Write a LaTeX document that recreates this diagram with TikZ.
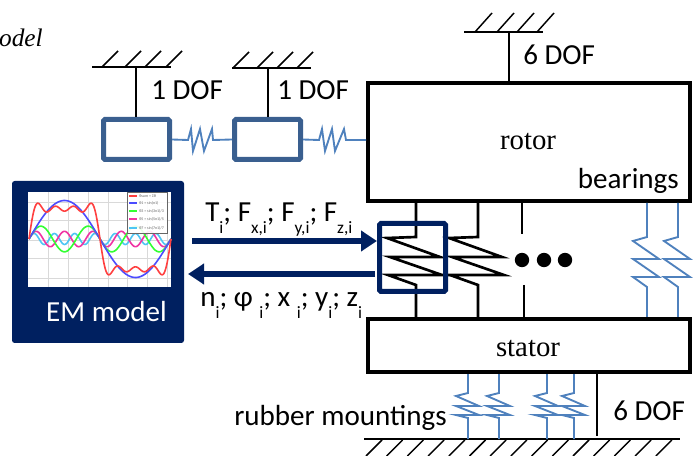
\documentclass[tikz,border=0pt]{standalone}
\usepackage{fontspec}
\setmainfont{Carlito}
\newfontfamily\timesfont{Liberation Serif}
\usetikzlibrary{arrows.meta}
\definecolor{navy}{HTML}{002060}
\definecolor{steel}{HTML}{3A5F8F}
\definecolor{springblue}{HTML}{4F81BD}
\newcommand{\lowi}[1]{\raisebox{-.4em}{\fontsize{13}{13}\selectfont #1}}
\tikzset{
	wire/.style={line width=1.5pt},
	springwire/.style={line width=2pt},
	thinwire/.style={line width=1.1pt},
	bluewire/.style={line width=1.4pt,springblue},
	body/.style={draw,line width=3pt,inner sep=0pt},
	bodytxt/.style={inner sep=0pt,font=\timesfont\fontsize{21.6}{24}\selectfont},
	mass/.style={draw=steel,line width=3.75pt,rounded corners=1pt,minimum width=49.5pt,minimum height=30pt},
	flow/.style={navy,line width=4.5pt,-{Triangle[length=12pt,width=15pt]}},
	txt/.style={font=\fontsize{21.8}{24}\selectfont,inner sep=0pt},
	legendtxt/.style={inner sep=0pt,anchor=west,text=black!60,font=\fontsize{3}{3}\selectfont},
}
\begin{document}
\begin{tikzpicture}[x=.75pt,y=-.75pt]
	\useasboundingbox (0,0) rectangle (697,456);

	\node[inner sep=0pt,anchor=base east,font=\timesfont\itshape\fontsize{19}{22}\selectfont] (title) at (43,47) {odel};

	% rotor and stator
	\node[body,minimum width=241.5pt,minimum height=88.5pt] (rotor) at (529,142) {};
	\node[bodytxt] (rotorlabel) at (528,142) {rotor};
	\node[txt,anchor=base east] (bearings) at (679,189) {bearings};
	\node[body,minimum width=241.5pt,minimum height=39.75pt] (stator) at (529,345.5) {};
	\node[bodytxt] (statorlabel) at (528,349) {stator};

	% grounds
	\coordinate (topground) at (509,32);
	\draw[thinwire] (464,32) -- (543,32);
	\foreach \x in {475,497,517,537} \draw[thinwire] (\x,32) -- ++(17,-19);
	\draw[wire] (topground) -- (rotor.north -| topground);
	\node[txt,anchor=base west] (dofrotor) at (523,65) {6 DOF};

	\coordinate (groundA) at (136,67);
	\coordinate (groundB) at (268,68);
	\draw[thinwire] (92,67) -- (171,67);
	\draw[thinwire] (232,68) -- (311,68);
	\foreach \x in {102,125,145,166} \draw[thinwire] (\x,67) -- ++(16,-16);
	\foreach \x in {233,257,277,297} \draw[thinwire] (\x,68) -- ++(16,-16);

	% masses on the left, in series with the rotor
	\node[mass] (massA) at (136.5,139.5) {};
	\node[mass] (massB) at (267.5,139.5) {};
	\draw[wire] (groundA) -- (massA.north -| groundA);
	\draw[wire] (groundB) -- (massB.north -| groundB);
	\node[txt,anchor=base west] (dofA) at (151,100) {1 DOF};
	\node[txt,anchor=base west] (dofB) at (277,100) {1 DOF};
	\draw[bluewire] (massA.east) -- (188,140) -- (191,129) -- (193,151) -- (200,129) -- (204,151) -- (212,129) -- (213,140) -- (massB.west);
	\draw[bluewire] (massB.east) -- (319,140) -- (322,129) -- (325,151) -- (332,129) -- (335,151) -- (344,129) -- (346,140) -- (rotor.west |- 0,140);

	% springs between rotor and stator
	\foreach \x in {416,478}
		\draw[springwire] (\x,0 |- rotor.south) -- (\x,237) -- ++(-29,1) -- ++(53,19) -- ++(-50,0) -- ++(52,18) -- ++(-54,0) -- (\x,285) -- (\x,0 |- stator.north);
	\draw[springwire] (522,0 |- rotor.south) -- (522,234);
	\draw[springwire] (524,285) -- (524,0 |- stator.north);
	\foreach \x in {522,544,565} \fill (\x,260) circle (5.4pt);
	\foreach \x in {647,678}
		\draw[bluewire] (\x,0 |- rotor.south) -- (\x,237) -- ++(-14,4) -- ++(26,18) -- ++(-26,0) -- ++(26,18) -- ++(-26,0) -- (\x,287) -- (\x,0 |- stator.north);

	\node[draw=navy,line width=3.75pt,rounded corners=1pt,minimum width=49.5pt,minimum height=51pt] (coupling) at (412.5,257.5) {};

	% bottom ground and rubber mountings
	\coordinate (bottomground) at (597,439);
	\draw[thinwire] (364,439) -- (680,439);
	\foreach \x in {382,402.7,...,676} \draw[thinwire] (\x,440) -- ++(-16,16);
	\foreach \x in {468,499,547,574}
		\draw[bluewire] (\x,0 |- stator.south) -- (\x,393) -- ++(-12,3) -- ++(23,10) -- ++(-23,0) -- ++(23,9) -- ++(-23,0) -- (\x,418) -- (\x,439);
	\draw[thinwire] (stator.south -| bottomground) -- (597,436);
	\node[txt,anchor=base west] (dofstator) at (613,421) {6 DOF};
	\node[txt,anchor=base east] (rubber) at (447,426) {rubber mountings};

	% EM model
	\node[fill=navy,rounded corners=2pt,minimum width=129pt,minimum height=121.5pt] (em) at (98,262) {};
	\fill[white] (28,192) rectangle (171,287);
	\foreach \x in {48,68,88,108,127,147,167} \draw[black!15,line width=.6pt] (\x,192) -- (\x,287);
	\foreach \y in {202,220,240,258,278} \draw[black!15,line width=.6pt] (28,\y) -- (171,\y);
	\draw[cyan!70,line width=1.2pt,domain=0:360,samples=150] plot ({29+.3944*\x},{239-38.5*sin(7*\x)/7});
	\draw[magenta!80,line width=1.2pt,domain=0:360,samples=150] plot ({29+.3944*\x},{239-38.5*sin(5*\x)/5});
	\draw[green!80,line width=1.2pt,domain=0:360,samples=150] plot ({29+.3944*\x},{239-38.5*sin(3*\x)/3});
	\draw[blue!70,line width=1.2pt,domain=0:360,samples=100] plot ({29+.3944*\x},{239-38.5*sin(\x)});
	\draw[red!75,line width=1.2pt,domain=0:360,samples=250] plot ({29+.3944*\x},{239-38.5*(sin(\x)+sin(3*\x)/3+sin(5*\x)/5+sin(7*\x)/7)});
	\fill[white,fill opacity=.9] (127,192) rectangle (167,233);
	\draw[black!60,line width=.5pt] (127,192) rectangle (167,233);
	\draw[red!75,line width=1pt] (129,196) -- (137,196);
	\draw[blue!70,line width=1pt] (129,203) -- (137,203);
	\draw[green!80,line width=1pt] (129,211) -- (137,211);
	\draw[magenta!80,line width=1pt] (129,219) -- (137,219);
	\draw[cyan!70,line width=1pt] (129,228) -- (137,228);
	\node[legendtxt] (legendsum) at (139,196) {θsum = Σθ};
	\node[legendtxt] (legendA) at (139,203) {θ1 = sin(n1)};
	\node[legendtxt] (legendB) at (139,211) {θ3 = sin(3n1)/3};
	\node[legendtxt] (legendC) at (139,219) {θ5 = sin(5n1)/5};
	\node[legendtxt] (legendD) at (139,228) {θ7 = sin(7n1)/7};
	\node[txt,text=white,anchor=base] (emlabel) at (106.5,321) {EM model};

	% exchanged quantities
	\coordinate (forcesstart) at (192,241);
	\coordinate (statesstart) at (375,274);
	\draw[flow] (forcesstart) -- (coupling.west |- forcesstart);
	\draw[flow] (statesstart) -- (188,274);
	\node[txt,anchor=base west] (forces) at (205,222) {T\lowi{i}; F\lowi{x,i}; F\lowi{y,i}; F\lowi{z,i}};
	\node[txt,anchor=base west] (states) at (200,307) {n\lowi{i}; φ \lowi{i}; x \lowi{i}; y\lowi{i}; z\lowi{i}};
\end{tikzpicture}
\end{document}
